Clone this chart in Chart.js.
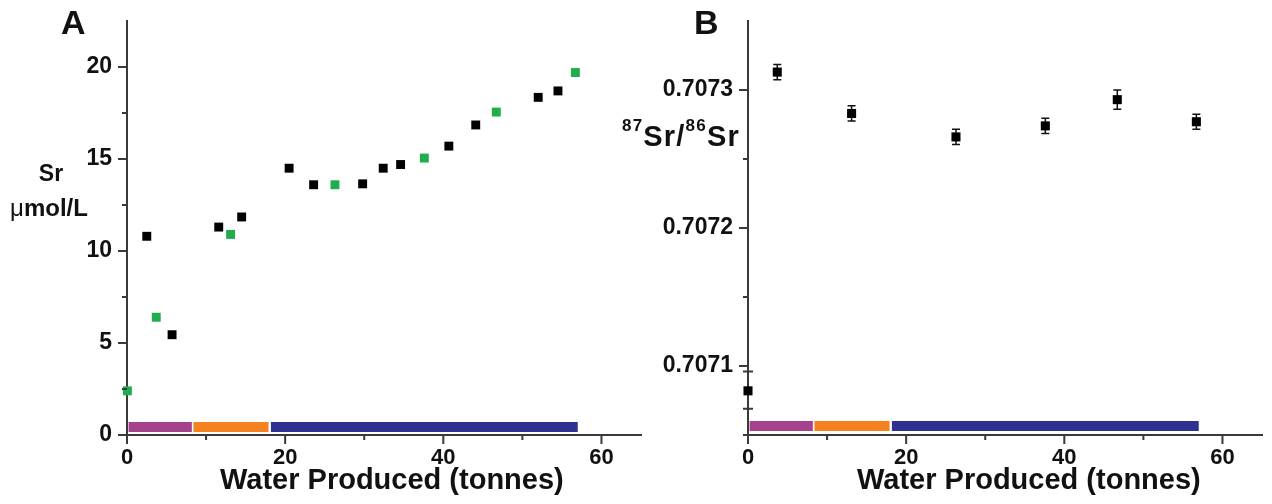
<!DOCTYPE html>
<html>
<head>
<meta charset="utf-8">
<script src="https://cdn.jsdelivr.net/npm/chart.js@4.4.1/dist/chart.umd.min.js"></script>
<style>
body{margin:0;background:#fff;width:1272px;height:504px;position:relative;overflow:hidden;font-family:"Liberation Sans",Arial,sans-serif;font-weight:bold;color:#111}
canvas{position:absolute;top:0}
#chartA{left:0}
#chartB{left:620px}
.lbl{position:absolute;white-space:nowrap;line-height:1}
.sup{font-size:17px;position:relative;top:-15px}
</style>
</head>
<body>
<canvas id="chartA" width="650" height="504"></canvas>
<canvas id="chartB" width="652" height="504"></canvas>

<div class="lbl" style="left:61px;top:4.5px;font-size:34px">A</div>
<div class="lbl" style="left:694px;top:5px;font-size:34px">B</div>
<div class="lbl" style="left:1px;width:100px;text-align:center;top:162px;font-size:23px">Sr</div>
<div class="lbl" style="left:-1px;width:100px;text-align:center;top:196px;font-size:24px"><span style="font-weight:normal">&mu;</span>mol/L</div>
<div class="lbl" style="left:622px;top:122px;font-size:29px;letter-spacing:1.2px"><span class="sup">87</span>Sr/<span class="sup">86</span>Sr</div>
<div class="lbl" style="left:220px;top:465px;font-size:29px">Water Produced (tonnes)</div>
<div class="lbl" style="left:857px;top:465px;font-size:29px">Water Produced (tonnes)</div>

<script>
// panel A: Sr concentration, two sample sets
const xBlackA = [2.5, 5.7, 11.6, 14.5, 20.5, 23.6, 29.8, 32.4, 34.6, 40.7, 44.1, 52.0, 54.5];
const yBlackA = [10.8, 5.45, 11.3, 11.85, 14.5, 13.6, 13.65, 14.5, 14.7, 15.7, 16.85, 18.35, 18.7];
const xGreenA = [0.05, 3.7, 13.1, 26.3, 37.6, 46.7, 56.7];
const yGreenA = [2.4, 6.4, 10.9, 13.6, 15.05, 17.55, 19.7];

// panel B: 87Sr/86Sr with error bars
const xB = [0, 3.7, 13.1, 26.3, 37.6, 46.7, 56.7];
const yB = [0.707082, 0.707313, 0.707283, 0.707266, 0.707274, 0.707293, 0.707277];
const errB = [0, 0.0000055, 0.0000055, 0.0000055, 0.0000055, 0.000007, 0.0000055];

// production phases (coloured strips along the bottom)
const phaseStart = [0.2, 8.4, 18.2];
const phaseEnd = [8.2, 17.9, 57.0];
const phaseColors = ["#a4428e", "#f5821f", "#2e3192"];
const phaseLevelA = 0.435;
const phaseLevelB = 0.7070565;

// ticks
const xMajor = [0, 20, 40, 60];
const yMajorA = [0, 5, 10, 15, 20];
const yMajorB = ["0.7071", "0.7072", "0.7073"];
const breakTicksB = [0.707069, 0.707096];

const axisColor = "#3a3a3a";
const tickFontX = { family: "Liberation Sans", weight: "bold", size: 22 };
const tickFontY = { family: "Liberation Sans", weight: "bold", size: 23 };

function phaseSets(level) {
  return phaseStart.map((s, i) => ({
    data: [{ x: s, y: level }, { x: phaseEnd[i], y: level }],
    showLine: true,
    borderColor: phaseColors[i],
    borderWidth: 10,
    borderCapStyle: "butt",
    pointRadius: 0,
    clip: false
  }));
}

function pts(xs, ys) {
  return xs.map((x, i) => ({ x: x, y: ys[i] }));
}

// draws the axis tick marks: long for labelled ticks, short for the rest
const tickMarks = {
  id: "tickMarks",
  afterDraw(chart, args, opts) {
    const ctx = chart.ctx;
    const { x, y } = chart.scales;
    ctx.save();
    ctx.strokeStyle = axisColor;
    ctx.lineWidth = 2;
    ctx.beginPath();
    x.ticks.forEach(t => {
      if (t.value >= x.max) return;
      const p = x.getPixelForValue(t.value);
      const len = t.label !== "" ? 9 : 5;
      ctx.moveTo(p, x.top);
      ctx.lineTo(p, x.top + len);
    });
    y.ticks.forEach(t => {
      if (t.value >= y.max - 1e-12) return;
      const p = y.getPixelForValue(t.value);
      const len = t.label !== "" ? 9 : 5;
      ctx.moveTo(y.right, p);
      ctx.lineTo(y.right - len, p);
    });
    (opts.breaks || []).forEach(v => {
      const p = y.getPixelForValue(v);
      ctx.moveTo(y.right - 5, p);
      ctx.lineTo(y.right + 5, p);
    });
    ctx.stroke();
    ctx.restore();
  }
};

const errorBars = {
  id: "errorBars",
  beforeDatasetsDraw(chart, args, opts) {
    if (!opts.err) return;
    const ctx = chart.ctx;
    const { x, y } = chart.scales;
    ctx.save();
    ctx.strokeStyle = "#111";
    ctx.lineWidth = 1.5;
    ctx.beginPath();
    opts.xs.forEach((v, i) => {
      const e = opts.err[i];
      if (!e) return;
      const px = x.getPixelForValue(v);
      const top = y.getPixelForValue(opts.ys[i] + e);
      const bot = y.getPixelForValue(opts.ys[i] - e);
      ctx.moveTo(px, top); ctx.lineTo(px, bot);
      ctx.moveTo(px - 4, top); ctx.lineTo(px + 4, top);
      ctx.moveTo(px - 4, bot); ctx.lineTo(px + 4, bot);
    });
    ctx.stroke();
    ctx.restore();
  }
};

function xScale() {
  return {
    type: "linear",
    min: 0,
    max: 65,
    afterFit: s => { s.height = 69; },
    border: { color: axisColor, width: 2 },
    grid: { drawOnChartArea: false, drawTicks: false },
    ticks: {
      stepSize: 10,
      includeBounds: false,
      autoSkip: false,
      maxRotation: 0,
      padding: 10,
      color: "#111",
      font: tickFontX,
      callback: v => xMajor.includes(v) ? String(v) : ""
    }
  };
}

function fitY(w) {
  return s => { s.width = w; s.paddingTop = 0; s.paddingBottom = 0; };
}

new Chart(document.getElementById("chartA"), {
  type: "scatter",
  data: {
    datasets: [
      {
        data: pts(xBlackA, yBlackA),
        pointStyle: "rect",
        pointRadius: 6.3,
        backgroundColor: "#000",
        borderWidth: 0,
        clip: false
      },
      {
        data: pts(xGreenA, yGreenA),
        pointStyle: "rect",
        pointRadius: 6.3,
        backgroundColor: "#1fae4e",
        borderWidth: 0,
        clip: false
      },
      ...phaseSets(phaseLevelA)
    ]
  },
  options: {
    responsive: false,
    animation: false,
    layout: { padding: { left: 0, top: 21, right: 9, bottom: 0 } },
    plugins: { legend: { display: false }, tooltip: { enabled: false }, tickMarks: {} },
    scales: {
      x: xScale(),
      y: {
        type: "linear",
        min: 0,
        max: 22.5,
        afterFit: fitY(127),
        border: { color: axisColor, width: 2 },
        grid: { drawOnChartArea: false, drawTicks: false },
        ticks: {
          stepSize: 2.5,
          includeBounds: false,
          autoSkip: false,
          padding: 15,
          color: "#111",
          font: tickFontY,
          callback: v => yMajorA.includes(v) ? String(v) : ""
        }
      }
    }
  },
  plugins: [tickMarks]
});

new Chart(document.getElementById("chartB"), {
  type: "scatter",
  data: {
    datasets: [
      {
        data: pts(xB, yB),
        pointStyle: "rect",
        pointRadius: 6.4,
        backgroundColor: "#000",
        borderWidth: 0,
        clip: false
      },
      ...phaseSets(phaseLevelB)
    ]
  },
  options: {
    responsive: false,
    animation: false,
    layout: { padding: { left: 0, top: 21, right: 10, bottom: 0 } },
    plugins: {
      legend: { display: false },
      tooltip: { enabled: false },
      tickMarks: { breaks: breakTicksB },
      errorBars: { xs: xB, ys: yB, err: errB }
    },
    scales: {
      x: xScale(),
      y: {
        type: "linear",
        min: 0.70705,
        max: 0.70735,
        afterFit: fitY(128),
        border: { color: axisColor, width: 2 },
        grid: { drawOnChartArea: false, drawTicks: false },
        ticks: {
          stepSize: 0.00005,
          includeBounds: false,
          autoSkip: false,
          padding: 15,
          color: "#111",
          font: tickFontY,
          callback: v => {
            const s = v.toFixed(5);
            return yMajorB.includes(v.toFixed(4)) && s.endsWith("0") ? v.toFixed(4) : "";
          }
        }
      }
    }
  },
  plugins: [tickMarks, errorBars]
});
</script>
</body>
</html>
